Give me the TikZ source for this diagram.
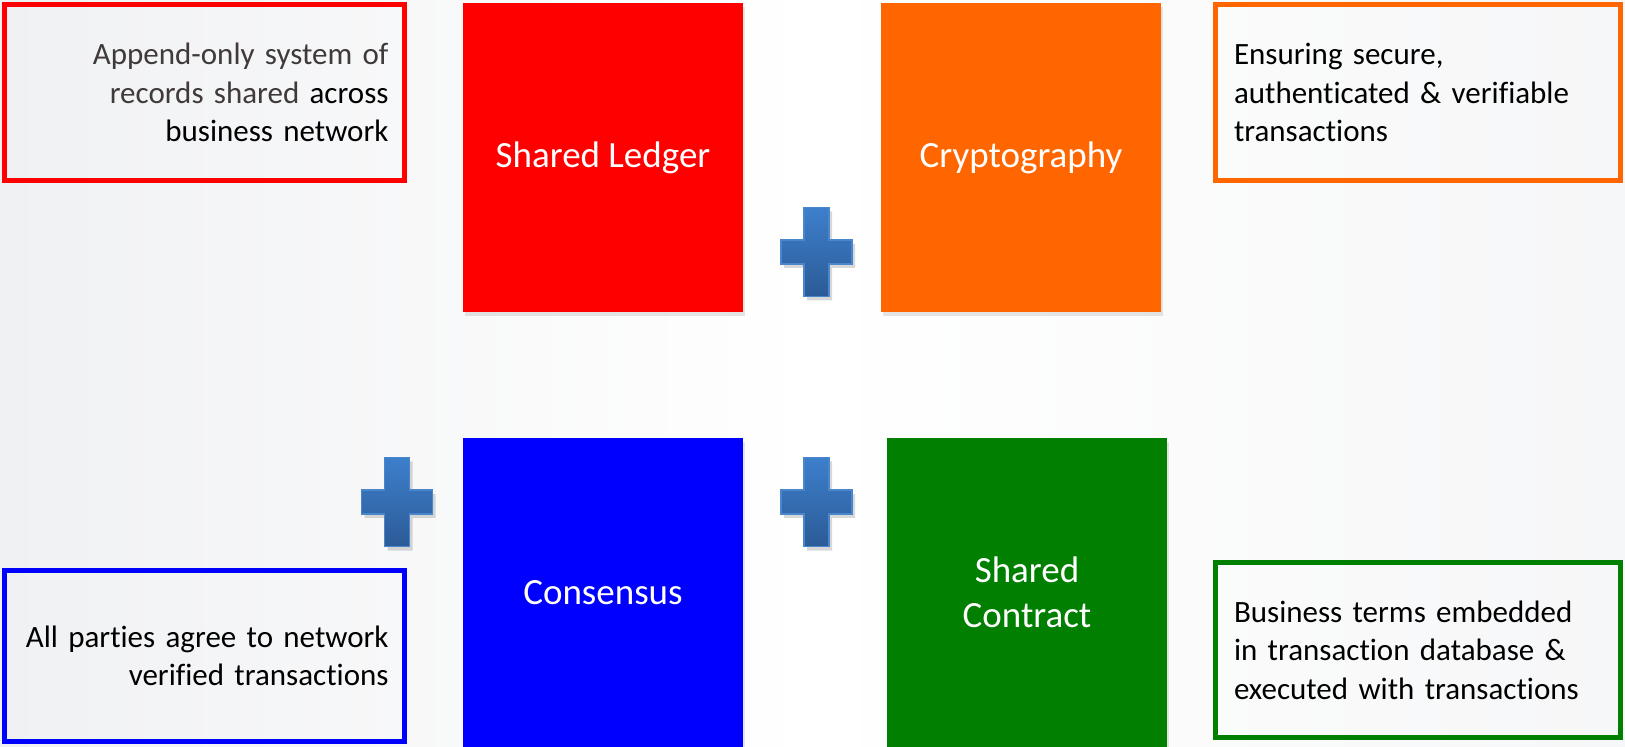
\documentclass[tikz,border=0pt]{standalone}
\usepackage{fontspec}
\setmainfont{Carlito}[Ligatures={NoCommon}]
\usetikzlibrary{positioning,shadows}

\definecolor{ledgerred}{HTML}{FF0000}
\definecolor{cryptoorange}{HTML}{FF6600}
\definecolor{consensusblue}{HTML}{0000FF}
\definecolor{contractgreen}{HTML}{007F00}
\definecolor{plustop}{HTML}{3D7FCC}
\definecolor{plusbottom}{HTML}{2C5B97}
\definecolor{plusedge}{HTML}{4A86CC}
\definecolor{notegrey}{HTML}{403A3A}
\definecolor{pagegrey}{HTML}{F0F1F3}

\begin{document}
\begin{tikzpicture}[x=0.5pt, y=-0.5pt]
    \tikzset{
        pillar/.style = {rectangle, text=white, align=center, minimum width=140pt, minimum height=154.5pt, inner sep=0pt, outer sep=0pt, font=\fontsize{18.5}{22.5}\selectfont, drop shadow={opacity=0.2, shadow xshift=1pt, shadow yshift=-2pt}},
        note/.style = {rectangle, draw, line width=2.5pt, text width=184pt, inner xsep=8pt, minimum width=200pt, font=\fontsize{15.5}{19.25}\selectfont},
        plussign/.style = {draw=plusedge, line width=0.6pt, top color=plustop, bottom color=plusbottom, drop shadow={opacity=0.3, shadow xshift=1.5pt, shadow yshift=-2pt}},
    }
    \useasboundingbox (0,0) rectangle (1625,747);
    \fill[left color=pagegrey, right color=pagegrey!60, middle color=white] (0,0) rectangle (1625,747);

    % the four pillars
    \node [pillar, fill=ledgerred] (ledger) at (603,157.5) {Shared Ledger};
    \node [pillar, fill=cryptoorange, right=69pt of ledger] (crypto) {Cryptography};
    \node [pillar, fill=consensusblue, below=63pt of ledger] (consensus) {Consensus};
    \node [pillar, fill=contractgreen, right=72pt of consensus] (contract) {Shared\\Contract};

    % notes
    \node [note, draw=ledgerred, align=right, minimum height=88pt] (ledgernote) at (204.5,92.5)
        {{\color{notegrey}Append-only system of\\records shared} across\\business network};
    \node [note, draw=cryptoorange, align=left, minimum width=202.5pt, minimum height=88pt] (cryptonote) at (1418,92.5)
        {Ensuring secure,\\authenticated \& verifiable\\transactions};
    \node [note, draw=consensusblue, align=right, minimum height=85.5pt] (consensusnote) at (204.5,656)
        {All parties agree to network\\verified transactions};
    \node [note, draw=contractgreen, align=left, minimum width=202.5pt, minimum height=87.5pt] (contractnote) at (1418,650)
        {Business terms embedded\\in transaction database \&\\executed with transactions};

    % plus signs
    \foreach \px/\py in {816.5/252, 397/502, 816.5/502}
        \path[plussign, shift={(\px,\py)}] (-12.5,-44.5) -- (12.5,-44.5) -- (12.5,-12) -- (35.5,-12) -- (35.5,12) -- (12.5,12)
            -- (12.5,44.5) -- (-12.5,44.5) -- (-12.5,12) -- (-35.5,12) -- (-35.5,-12) -- (-12.5,-12) -- cycle;
\end{tikzpicture}
\end{document}
